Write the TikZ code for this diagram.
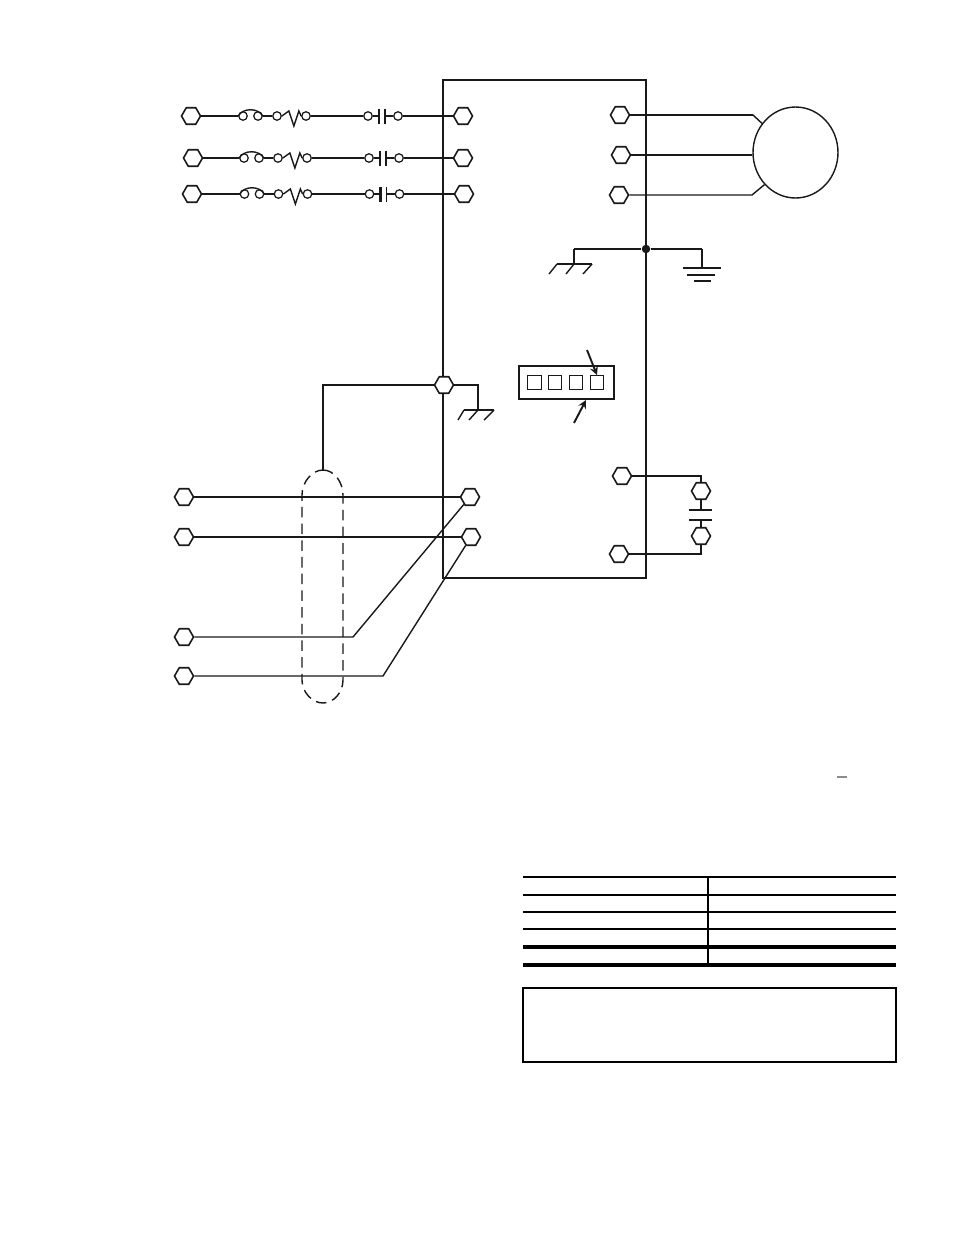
\documentclass[tikz,border=0pt]{standalone}
\usepackage{tikz}
\usetikzlibrary{arrows,shapes,shapes.geometric,positioning}
\tikzstyle{wire} = [line width=0.8pt,draw=black!90]
\tikzstyle{heavy} = [line width=1.25pt,draw=black!90]
\tikzstyle{hexterm} = [draw=black!90,regular polygon,regular polygon sides=6,minimum size=0.38cm,inner sep=0pt,line width=0.9pt,fill=white]
\tikzstyle{pin} = [draw=black!90,circle,minimum size=0.17cm,inner sep=0pt,line width=0.7pt,fill=white]
\tikzstyle{pointer} = [line width=1.1pt,->,>=stealth,draw=black!90,color=black!90]
\tikzstyle{dipkey} = [draw=black!90,minimum size=0.27cm,inner sep=0pt,line width=0.8pt]

\begin{document}
\begin{tikzpicture}[x=0.02cm,y=-0.02cm]
\useasboundingbox (0,0) rectangle (954,1235);

% Drive enclosure
\node[draw=black!90,line width=0.8pt,minimum width=4.06cm,minimum height=9.96cm,inner sep=0pt] (drive) at (544.5,329) {};

% Supply lines with fuse, overload and contactor
\foreach \id/\y/\dx/\xl/\xr in {1/116/0/191/463, 2/158/1/193/463, 3/194/1.5/192/464} {
  \node[hexterm] (L\id) at (\xl,\y) {};
  \node[hexterm] (T\id) at (\xr,\y) {};
  \node[pin] (Fa\id) at ({243+\dx},\y) {};
  \node[pin] (Fb\id) at ({258+\dx},\y) {};
  \node[pin] (Ra\id) at ({277+\dx},\y) {};
  \node[pin] (Rb\id) at ({306+\dx},\y) {};
  \node[pin] (Ca\id) at ({368+\dx},\y) {};
  \node[pin] (Cb\id) at ({398+\dx},\y) {};
  \coordinate (Pa\id) at ({379+\dx},\y);
  \coordinate (Pb\id) at ({385+\dx},\y);
  \draw[wire] (L\id) -- (Fa\id);
  \draw[wire] (Fa\id.west) to[out=60,in=120] (Fb\id.east);
  \draw[wire] (Fb\id) -- (Ra\id);
  \draw[wire] (Ra\id.east) -- ++(7,-5) -- ++(5,15) -- ++(5,-15) -- (Rb\id.west);
  \draw[wire] (Rb\id) -- (Ca\id);
  \draw[wire] (Ca\id) -- (Pa\id);
  \draw[heavy] (Pa\id) ++(0,-7.5) -- ++(0,15);
  \draw[wire] (Pb\id) ++(0,-7.5) -- ++(0,15);
  \draw[wire] (Pb\id) -- (Cb\id);
  \draw[wire] (Cb\id) -- (T\id);
}

% Motor
\node[draw=black!90,ellipse,line width=0.8pt,minimum width=1.7cm,minimum height=1.82cm,inner sep=0pt] (motor) at (795.5,152.5) {};
\node[hexterm] (U1) at (620,115) {};
\node[hexterm] (U2) at (621,155) {};
\node[hexterm] (U3) at (619,195) {};
\coordinate (bendA) at (753,115);
\coordinate (bendC) at (752,195);
\draw[heavy] (U1) -- (bendA);
\draw[wire] (bendA) -- (motor.139);
\draw[wire] (U2) -- (motor.west |- U2);
\draw[wire] (U3) -- (bendC) -- (motor.226);

% Grounds at the enclosure
\node[circle,fill=black!90,minimum size=0.17cm,inner sep=0pt] (tie) at (646,249) {};
\coordinate (chassisA) at (574,264);
\coordinate (earthA) at (702,268);
\draw[heavy] (chassisA |- tie) -- (tie) -- (earthA |- tie);
\draw[wire] (chassisA |- tie) -- (chassisA);
\draw[wire] (earthA |- tie) -- (earthA);
\draw[wire] (557,264) -- (592,264);
\foreach \x/\dx in {557/-8, 574/-8, 592/-9} {
  \draw[wire] (\x,264) -- ++(\dx,10);
}
\draw[wire] (683,268) -- (721,268);
\draw[wire] (687,275) -- (715,275);
\draw[wire] (694,281) -- (711,281);

% Dip switch
\node[draw=black!90,line width=0.9pt,minimum width=1.9cm,minimum height=0.66cm,inner sep=0pt] (dip) at (566.5,382.5) {};
\foreach \id/\x in {1/534.5, 2/555, 3/576, 4/597} {
  \node[dipkey] (key\id) at (\x,382.5) {};
}
\coordinate (tagA) at (587,350);
\coordinate (tagB) at (574,423);
\coordinate (tagC) at (586,400);
\draw[pointer] (tagA) -- (key4.north);
\draw[pointer] (tagB) -- (tagC);

% Shield and its ground
\node[hexterm] (GS) at (444,385) {};
\coordinate (shieldtop) at (323,470);
\coordinate (chassisB) at (478,410);
\draw[wire] (GS) -| (shieldtop);
\draw[wire] (GS) -| (chassisB);
\draw[wire] (464,410) -- (494,410);
\foreach \x/\dx in {464/-6, 478/-9, 494/-10} {
  \draw[wire] (\x,410) -- ++(\dx,10);
}
\draw[wire,dash pattern=on 6pt off 3.5pt] (shieldtop) .. controls (334,470) and (343,482) .. (343,495) -- (343,680) .. controls (343,692) and (334,703) .. (323,703) .. controls (312,703) and (302,692) .. (302,680) -- (302,495) .. controls (302,482) and (312,470) .. (shieldtop);

% Signal lines
\node[hexterm] (S1) at (184,497) {};
\node[hexterm] (S2) at (184,537) {};
\node[hexterm] (S3) at (184,637) {};
\node[hexterm] (S4) at (184,676) {};
\node[hexterm] (R1) at (470,497) {};
\node[hexterm] (R2) at (471,537) {};
\coordinate (bendS) at (353,637);
\coordinate (bendT) at (383,676);
\draw[heavy] (S1) -- (R1);
\draw[heavy] (S2) -- (R2);
\draw[wire] (S3) -- (bendS) -- (R1);
\draw[wire] (S4) -- (bendT) -- (R2);

% Brake capacitor
\node[hexterm] (B1) at (622,476) {};
\node[hexterm] (B2) at (619,554) {};
\node[hexterm] (K1) at (701,491) {};
\node[hexterm] (K2) at (701,536) {};
\coordinate (plateA) at (701,510);
\coordinate (plateB) at (701,520);
\draw[heavy] (B1) -| (K1);
\draw[heavy] (B2) -| (K2);
\draw[wire] (K1) -- (plateA);
\draw[wire] (K2) -- (plateB);
\draw[heavy] (689,510) -- (712,510);
\draw[heavy] (689,520) -- (712,520);

% Small rule above the table
\draw[line width=1pt,draw=black!45] (837,777) -- (847,777);

% Table rules
\foreach \y in {877,895,912,929} {
  \draw[line width=0.8pt,draw=black] (523,\y) -- (896,\y);
}
\foreach \y in {947,965} {
  \draw[line width=2pt,draw=black] (523,\y) -- (896,\y);
}
\draw[line width=0.8pt,draw=black] (708,877) -- (708,965);

% Note box
\draw[line width=0.7pt,draw=black] (523,988) rectangle (896,1062);
\end{tikzpicture}
\end{document}
